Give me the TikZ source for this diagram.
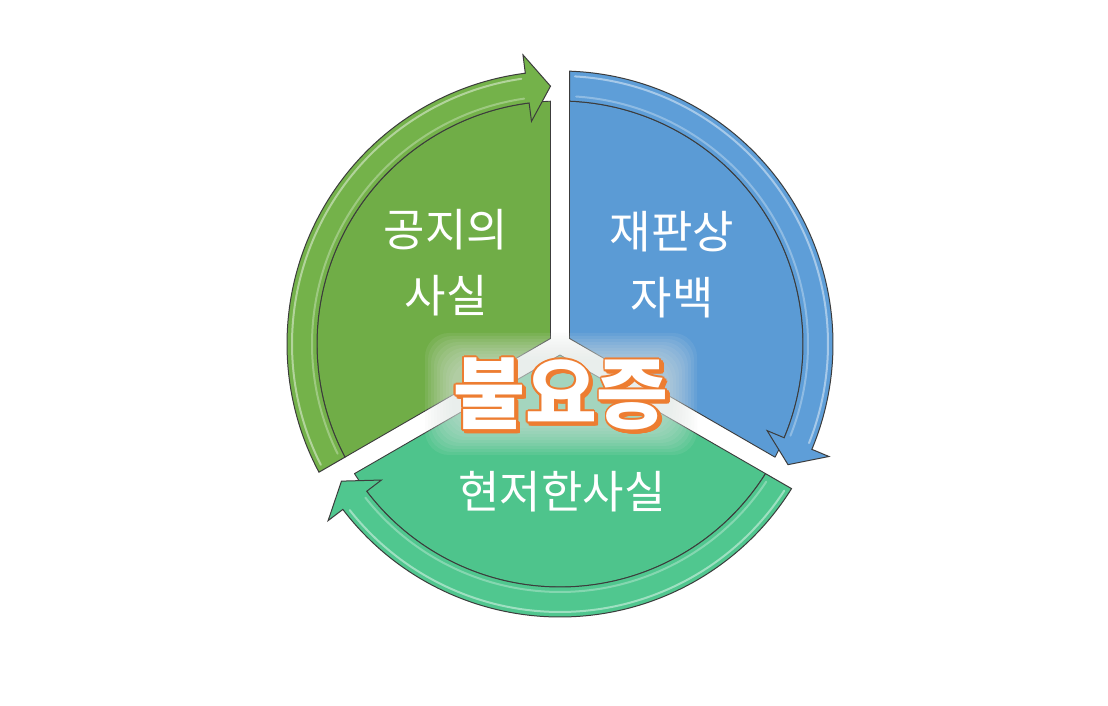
\documentclass[tikz,border=0pt]{standalone}
\usepackage{fontspec}
\usetikzlibrary{calc}
\newfontfamily\cjk{Noto Sans CJK KR}
\definecolor{grnB}{RGB}{112,173,71}
\definecolor{grnA}{RGB}{116,178,74}
\definecolor{bluB}{RGB}{91,155,213}
\definecolor{bluA}{RGB}{94,158,216}
\definecolor{tealB}{RGB}{78,196,140}
\definecolor{tealA}{RGB}{80,199,143}
\definecolor{edgec}{RGB}{60,60,60}
\definecolor{glowc}{RGB}{224,231,228}
\definecolor{orng}{RGB}{237,125,49}
\tikzset{
  segbody/.style={draw=edgec, line width=0.9pt, line join=round},
  segband/.style={draw=edgec, line width=1pt, line join=miter},
  hilite/.style={draw=white, opacity=0.45, line width=2pt, line cap=round},
  lbl/.style={text=white, align=center, font=\cjk\fontsize{45}{66}\selectfont},
  bigtxt/.style={font=\cjk\bfseries\fontsize{78}{84}\selectfont, inner sep=0pt},
}
\newcommand\cycseg[3]{%
  \pgfmathsetmacro\E{#1-120}%
  \pgfmathsetmacro\dA{asin(9.5/243)}%
  \pgfmathsetmacro\dB{asin(9.5/273)}%
  \pgfmathsetmacro\dM{asin(9.5/258)}%
  \pgfmathsetmacro\Bs{\E+7.3}%
  \pgfmathsetmacro\Sa{#1-\dA}%
  \pgfmathsetmacro\Sb{#1-\dB}%
  \pgfmathsetmacro\Ea{\E+\dA}%
  \pgfmathsetmacro\Em{\E+\dM}%
  \pgfmathsetmacro\Sc{#1-60}%
  \filldraw[segbody, fill=#2] ($(C)+(\Sc:11)$) -- ($(C)+(\Ea:243)$)
     arc[start angle=\Ea, end angle=\Sa, radius=243] -- cycle;
  \filldraw[segband, fill=#3] ($(C)+(\Sb:273)$)
     arc[start angle=\Sb, end angle=\Bs, radius=273]
     -- ($(C)+(\Bs:291.5)$) -- ($(C)+(\Em:258)$) -- ($(C)+(\Bs:224.5)$)
     -- ($(C)+(\Bs:243)$)
     arc[start angle=\Bs, end angle=\Sa, radius=243] -- cycle;
  \draw[hilite] ($(C)+(\Sb-1.2:268)$) arc[start angle=\Sb-1.2, end angle=\Bs+1, radius=268];
  \draw[hilite, opacity=0.3] ($(C)+(\Sa-1.5:248)$) arc[start angle=\Sa-1.5, end angle=\Bs+1, radius=248];
}
\begin{document}
\begin{tikzpicture}[x=1pt,y=1pt]
\useasboundingbox (0,0) rectangle (1108,706);
\fill[white] (0,0) rectangle (1108,706);
\coordinate (C) at (560,362);

\cycseg{210}{grnB}{grnA}
\cycseg{90}{bluB}{bluA}
\cycseg{330}{tealB}{tealA}

\node[lbl] (gongji) at (446,443) {공지의\\사실};
\node[lbl] (jaepan) at (672,441) {재판상\\자백};
\node[lbl] (hyeonjeo) at (562,214) {현저한사실};

% glow behind central text
\foreach \i in {0,...,9}{
  \fill[glowc, opacity=0.09, rounded corners=24pt]
    ({452-3*\i},{278-3*\i}) rectangle ({670+3*\i},{346+3*\i});
}
% outlined central text with shadow
\foreach \a in {0,30,...,359}{
  \node[bigtxt, text=orng] (sh\a) at ($(561,312)+(\a:1.6)+(2.6,-2.6)$) {불요증};
}
\foreach \a in {0,30,...,359}{
  \node[bigtxt, text=orng] (ol\a) at ($(561,312)+(\a:1.8)$) {불요증};
}
\node[bigtxt, text=white] (center) at (561,312) {불요증};
\end{tikzpicture}
\end{document}
